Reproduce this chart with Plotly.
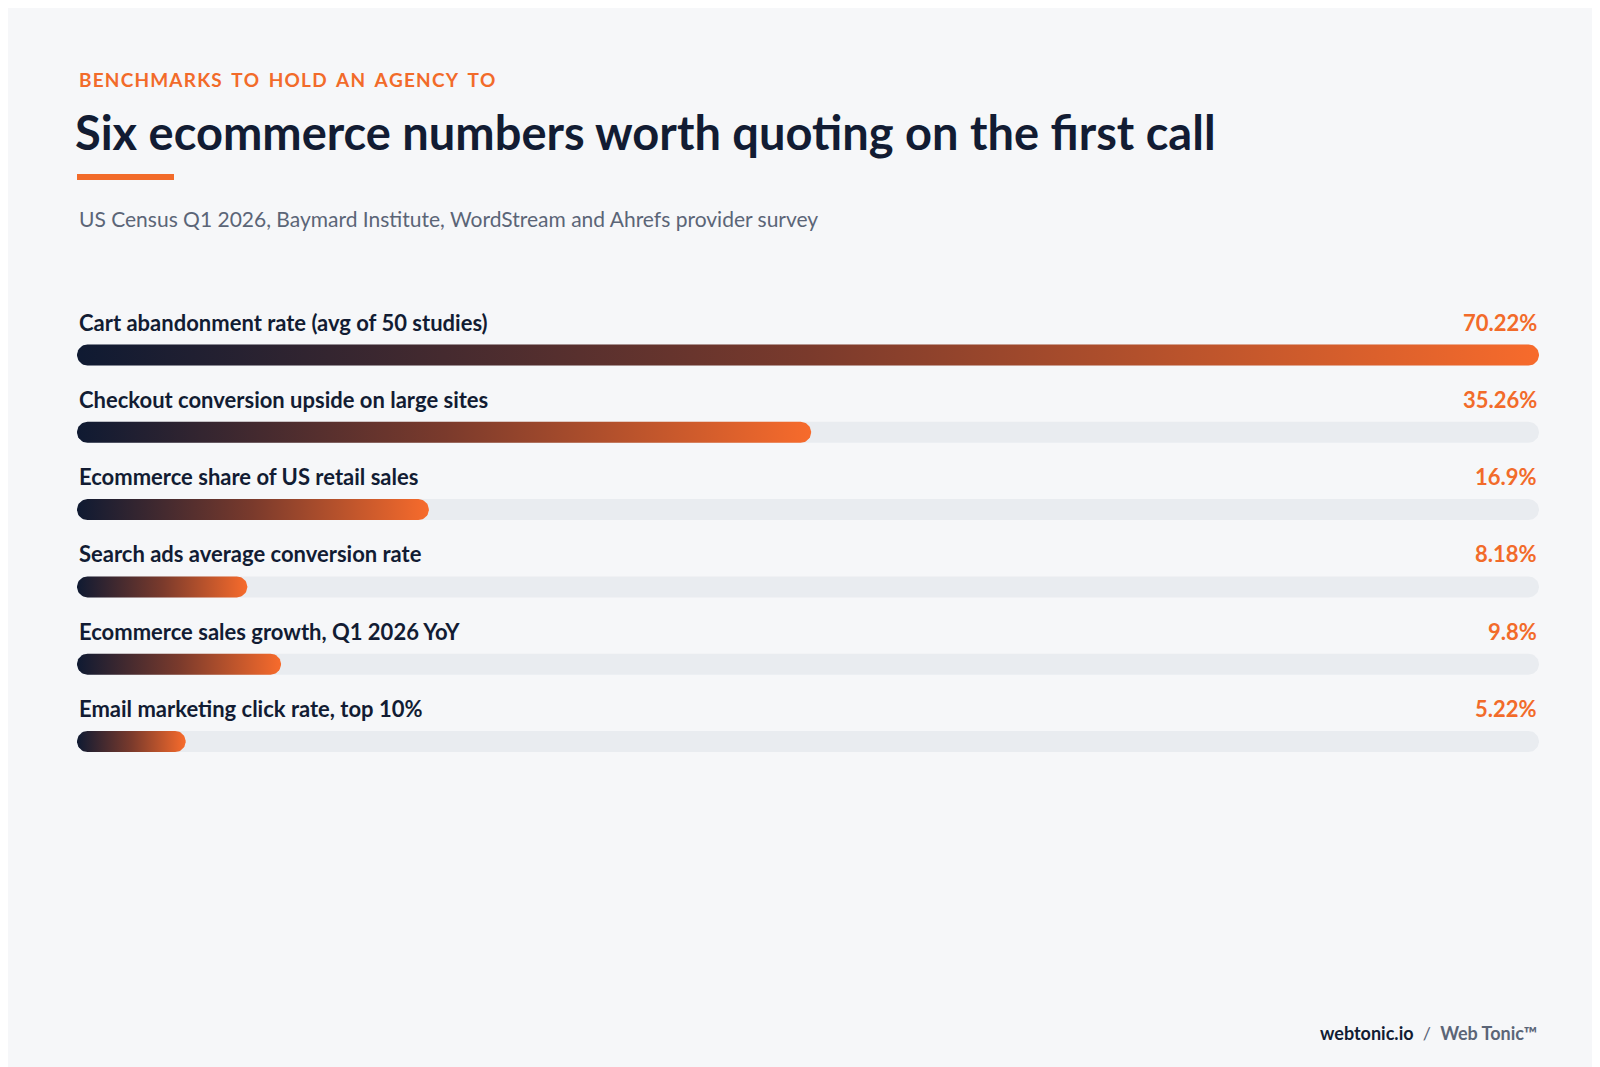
import numpy as np
import plotly.graph_objects as go

labels = ["Cart abandonment rate (avg of 50 studies)", "Checkout conversion upside on large sites",
          "Ecommerce share of US retail sales", "Search ads average conversion rate",
          "Ecommerce sales growth, Q1 2026 YoY", "Email marketing click rate, top 10%"]
values = [70.22, 35.26, 16.9, 8.18, 9.8, 5.22]
value_text = ["70.22%", "35.26%", "16.9%", "8.18%", "9.8%", "5.22%"]

W, H = 1600, 1067
ML, MR = 69, 69
PW = W - ML - MR
XMAX = max(values)
ROW0, STEP, BH = 347, 77.3, 21

def pill(x1, yc):
    r = BH / 2
    rx = r * XMAX / PW
    t = np.linspace(-np.pi / 2, np.pi / 2, 24)
    xs_r = x1 - rx + rx * np.cos(t)
    ys_r = yc + r * np.sin(t)
    t2 = np.linspace(np.pi / 2, 3 * np.pi / 2, 24)
    xs_l = rx + rx * np.cos(t2)
    ys_l = yc + r * np.sin(t2)
    xs = np.concatenate([xs_r, xs_l, xs_r[:1]])
    ys = np.concatenate([ys_r, ys_l, ys_r[:1]])
    return xs, ys

fig = go.Figure()
ann = []
font = "Lato, Noto Sans, sans-serif"
for i, (lab, v, vt) in enumerate(zip(labels, values, value_text)):
    yc = ROW0 + i * STEP
    xs, ys = pill(XMAX, yc)
    fig.add_trace(go.Scatter(x=xs, y=ys, fill="toself", fillcolor="#e9ecf0", mode="lines",
                             line=dict(width=0), hoverinfo="skip", showlegend=False))
    xs, ys = pill(v, yc)
    fig.add_trace(go.Scatter(x=xs, y=ys, fill="toself", mode="lines", line=dict(width=0),
                             fillgradient=dict(type="horizontal",
                                               colorscale=[[0, "#0f1a32"], [0.5, "#7a3a2c"], [1, "#f76b2c"]]),
                             hoverinfo="skip", showlegend=False))
    ann.append(dict(x=0, xref="paper", y=yc - 33, yref="y", text=f"<b>{lab}</b>", showarrow=False,
                    xanchor="left", yanchor="middle", font=dict(family=font, size=22, color="#121c33")))
    ann.append(dict(x=1, xref="paper", y=yc - 33, yref="y", text=f"<b>{vt}</b>", showarrow=False,
                    xanchor="right", yanchor="middle", font=dict(family=font, size=22, color="#f26b2a")))

ann += [
    dict(x=0, xref="paper", y=71, yref="y", text="<b>B E N C H M A R K S   T O   H O L D   A N   A G E N C Y   T O</b>".replace("   ", "\u2002").replace(" ", "\u200a"),
         showarrow=False, xanchor="left", yanchor="middle", font=dict(family=font, size=19, color="#f26b2a")),
    dict(x=-0.003, xref="paper", y=124, yref="y", text="<b>Six ecommerce numbers worth quoting on the first call</b>",
         showarrow=False, xanchor="left", yanchor="middle", font=dict(family=font, size=47, color="#121c33")),
    dict(x=0, xref="paper", y=210, yref="y", text="US Census Q1 2026, Baymard Institute, WordStream and Ahrefs provider survey",
         showarrow=False, xanchor="left", yanchor="middle", font=dict(family=font, size=21, color="#5b6577")),
    dict(x=1, xref="paper", y=1025, yref="y",
         text="<b>webtonic.io</b>  <span style='color:#5b6577'>/  <b>Web Tonic™</b></span>",
         showarrow=False, xanchor="right", yanchor="middle", font=dict(family=font, size=18, color="#121c33")),
]

fig.update_layout(
    width=W, height=H, margin=dict(l=ML, r=MR, t=0, b=0),
    paper_bgcolor="#f6f7f9", plot_bgcolor="#f6f7f9",
    xaxis=dict(range=[0, XMAX], visible=False, fixedrange=True),
    yaxis=dict(range=[H, 0], visible=False, fixedrange=True),
    annotations=ann,
    shapes=[dict(type="rect", xref="paper", yref="y", x0=0, x1=97 / PW, y0=166, y1=172,
                 fillcolor="#f26b2a", line=dict(width=0), layer="above")],
)
fig.write_html("out.html")
